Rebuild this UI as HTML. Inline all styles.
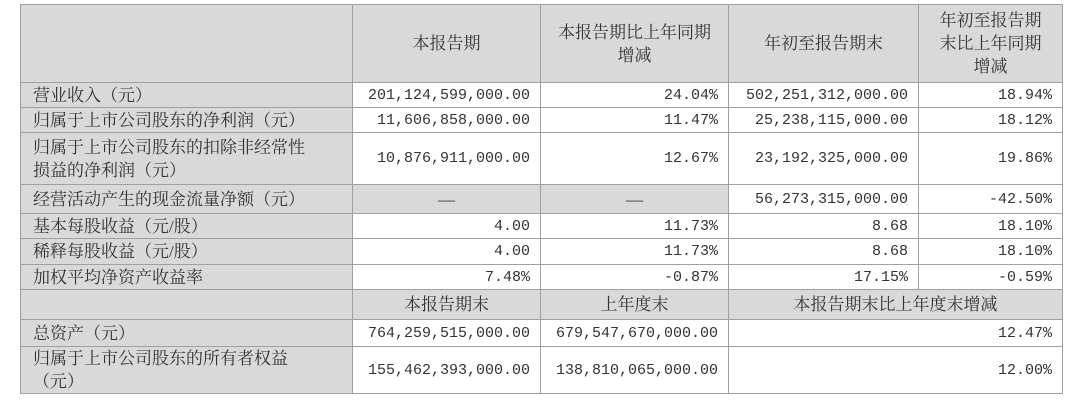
<!DOCTYPE html>
<html><head><meta charset="utf-8"><style>
body{margin:0;background:#fff;width:1080px;height:400px;overflow:hidden}
table{position:absolute;left:20px;top:4px;border-collapse:collapse;table-layout:fixed;color:#333;font-family:"Liberation Serif","Noto Serif CJK SC",serif;font-size:17px}
td{border:1px solid #a0a0a0;padding:0 10px;line-height:23px;overflow:hidden;white-space:nowrap}
td.l{background:#d9d9d9;text-align:left;padding-left:12px}
td.h{background:#d9d9d9;text-align:center}
td.n{text-align:right;font-family:"Liberation Mono","Noto Serif CJK SC",monospace;font-size:15px;background:#fff}
td.g{background:#d9d9d9;text-align:center}
</style></head><body>
<table>
<colgroup><col style="width:332px"><col style="width:188px"><col style="width:188px"><col style="width:190px"><col style="width:144px"></colgroup>
<tr style="height:78px"><td class="l"></td><td class="h">本报告期</td><td class="h">本报告期比上年同期<br>增减</td><td class="h">年初至报告期末</td><td class="h">年初至报告期<br>末比上年同期<br>增减</td></tr>
<tr style="height:25px"><td class="l">营业收入（元）</td><td class="n">201,124,599,000.00</td><td class="n">24.04%</td><td class="n">502,251,312,000.00</td><td class="n">18.94%</td></tr>
<tr style="height:25px"><td class="l">归属于上市公司股东的净利润（元）</td><td class="n">11,606,858,000.00</td><td class="n">11.47%</td><td class="n">25,238,115,000.00</td><td class="n">18.12%</td></tr>
<tr style="height:52px"><td class="l">归属于上市公司股东的扣除非经常性<br>损益的净利润（元）</td><td class="n">10,876,911,000.00</td><td class="n">12.67%</td><td class="n">23,192,325,000.00</td><td class="n">19.86%</td></tr>
<tr style="height:29px"><td class="l">经营活动产生的现金流量净额（元）</td><td class="g">—</td><td class="g">—</td><td class="n">56,273,315,000.00</td><td class="n">-42.50%</td></tr>
<tr style="height:25px"><td class="l">基本每股收益（元/股）</td><td class="n">4.00</td><td class="n">11.73%</td><td class="n">8.68</td><td class="n">18.10%</td></tr>
<tr style="height:26px"><td class="l">稀释每股收益（元/股）</td><td class="n">4.00</td><td class="n">11.73%</td><td class="n">8.68</td><td class="n">18.10%</td></tr>
<tr style="height:25px"><td class="l">加权平均净资产收益率</td><td class="n">7.48%</td><td class="n">-0.87%</td><td class="n">17.15%</td><td class="n">-0.59%</td></tr>
<tr style="height:30px"><td class="l"></td><td class="h">本报告期末</td><td class="h">上年度末</td><td class="h" colspan="2">本报告期末比上年度末增减</td></tr>
<tr style="height:27px"><td class="l">总资产（元）</td><td class="n">764,259,515,000.00</td><td class="n">679,547,670,000.00</td><td class="n" colspan="2">12.47%</td></tr>
<tr style="height:47px"><td class="l">归属于上市公司股东的所有者权益<br>（元）</td><td class="n">155,462,393,000.00</td><td class="n">138,810,065,000.00</td><td class="n" colspan="2">12.00%</td></tr>
</table>
</body></html>
